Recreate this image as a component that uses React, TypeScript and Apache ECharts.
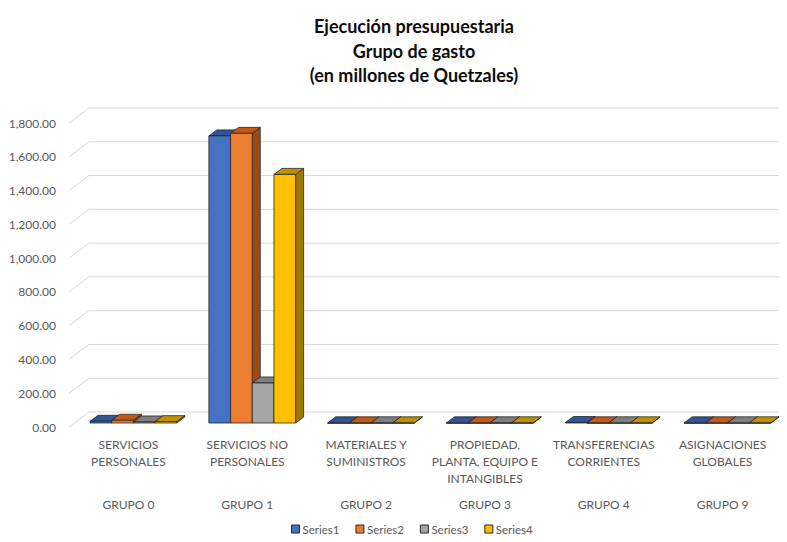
import React, { useEffect, useRef } from "react";
import * as echarts from "echarts";

const categories = [
  "SERVICIOS\nPERSONALES",
  "SERVICIOS NO\nPERSONALES",
  "MATERIALES Y\nSUMINISTROS",
  "PROPIEDAD,\nPLANTA, EQUIPO E\nINTANGIBLES",
  "TRANSFERENCIAS\nCORRIENTES",
  "ASIGNACIONES\nGLOBALES",
];
const groups = ["GRUPO 0", "GRUPO 1", "GRUPO 2", "GRUPO 3", "GRUPO 4", "GRUPO 9"];
const seriesNames = ["Series1", "Series2", "Series3", "Series4"];
const series1 = [10, 1700, 1, 1, 3, 1];
const series2 = [16, 1715, 1, 1, 1, 1];
const series3 = [6, 237, 1, 1, 1, 1];
const series4 = [8, 1472, 1, 1, 1, 1];
const yTicks = [0, 200, 400, 600, 800, 1000, 1200, 1400, 1600, 1800];

const seriesValues = [series1, series2, series3, series4];
const frontColors = ["#4472C4", "#ED7D31", "#A5A5A5", "#FFC000"];
const topColors = ["#2F5597", "#C55A11", "#7F7F7F", "#BF9000"];
const sideColors = ["#2A4A85", "#9E4A17", "#6E6E6E", "#A07A00"];

const WALL_DX = 20;
const WALL_DY = -15;
const BAR_FX = 5;
const BAR_FY = -4;
const BAR_DX = 8;
const BAR_DY = -6;
const GROUP_FRACTION = 0.73;
const FONT = "Lato";

export default function App() {
  const ref = useRef<HTMLDivElement>(null);

  useEffect(() => {
    if (!ref.current) return;
    const chart = echarts.init(ref.current, null, { renderer: "svg" });

    const gridSeries: any = {
      type: "custom",
      name: "grid",
      silent: true,
      z: 1,
      data: yTicks.map((v) => [0, v]),
      encode: { x: 0, y: 1 },
      renderItem: (params: any, api: any) => {
        const cs = params.coordSys;
        const y = api.coord([0, api.value(1)])[1];
        return {
          type: "polyline",
          shape: {
            points: [
              [cs.x, y],
              [cs.x + WALL_DX, y + WALL_DY],
              [cs.x + cs.width + 60, y + WALL_DY],
            ],
          },
          style: { stroke: "#d9d9d9", lineWidth: 1, fill: null },
        };
      },
    };

    const barSeries = seriesValues.map((vals, si) => ({
      type: "custom",
      name: seriesNames[si],
      z: 2 + si,
      itemStyle: { color: frontColors[si], borderColor: "#262626", borderWidth: 1 },
      data: vals.map((v, i) => [i, v]),
      encode: { x: 0, y: 1 },
      renderItem: (params: any, api: any) => {
        const cat = api.value(0);
        const val = api.value(1);
        const base = api.coord([cat, 0]);
        const top = api.coord([cat, val]);
        const band = api.size([1, 0])[0];
        const bw = (band * GROUP_FRACTION) / 4;
        const x = base[0] - (band * GROUP_FRACTION) / 2 + si * bw + BAR_FX;
        const yb = base[1] + BAR_FY;
        const yt = top[1] + BAR_FY;
        const stroke = { stroke: "#262626", lineWidth: 0.8, lineJoin: "round" };
        return {
          type: "group",
          children: [
            {
              type: "polygon",
              shape: {
                points: [
                  [x + bw, yt],
                  [x + bw + BAR_DX, yt + BAR_DY],
                  [x + bw + BAR_DX, yb + BAR_DY],
                  [x + bw, yb],
                ],
              },
              style: { fill: sideColors[si], ...stroke },
            },
            {
              type: "polygon",
              shape: {
                points: [
                  [x, yt],
                  [x + BAR_DX, yt + BAR_DY],
                  [x + bw + BAR_DX, yt + BAR_DY],
                  [x + bw, yt],
                ],
              },
              style: { fill: topColors[si], ...stroke },
            },
            {
              type: "rect",
              shape: { x, y: yt, width: bw, height: Math.max(yb - yt, 0.5) },
              style: { fill: frontColors[si], ...stroke },
            },
          ],
        };
      },
    }));

    chart.setOption({
      animation: false,
      backgroundColor: "#ffffff",
      title: {
        text: "Ejecución presupuestaria\nGrupo de gasto\n(en millones de Quetzales)",
        left: 409,
        top: 9,
        textAlign: "center",
        textStyle: {
          fontFamily: FONT,
          fontSize: 18,
          fontWeight: "bold",
          color: "#0d0d0d",
          lineHeight: 24.5,
        },
      },
      legend: {
        data: seriesNames,
        left: 291,
        top: 523,
        padding: 0,
        icon: "rect",
        itemWidth: 8,
        itemHeight: 8,
        itemGap: 16,
        itemStyle: { borderColor: "#262626", borderWidth: 1 },
        textStyle: { fontFamily: FONT, fontSize: 11.5, color: "#595959", padding: [0, 0, 0, -2] },
      },
      grid: { left: 69, right: 5, top: 123, bottom: 115, containLabel: false },
      xAxis: [
        {
          type: "category",
          data: categories,
          axisLine: { show: false },
          axisTick: { show: false },
          axisLabel: {
            interval: 0,
            margin: 9,
            fontFamily: FONT,
            fontSize: 12,
            lineHeight: 17,
            color: "#595959",
          },
        },
        {
          type: "category",
          position: "bottom",
          offset: 60,
          data: groups,
          axisLine: { show: false },
          axisTick: { show: false },
          axisLabel: {
            interval: 0,
            margin: 9,
            fontFamily: FONT,
            fontSize: 12,
            lineHeight: 17,
            color: "#595959",
          },
        },
      ],
      yAxis: {
        type: "value",
        min: 0,
        max: 1800,
        interval: 200,
        axisLine: { show: false },
        axisTick: { show: false },
        splitLine: { show: false },
        axisLabel: {
          margin: 13,
          fontFamily: FONT,
          fontSize: 12,
          color: "#595959",
          formatter: (v: number) =>
            v.toLocaleString("en-US", { minimumFractionDigits: 2, maximumFractionDigits: 2 }),
        },
      },
      series: [gridSeries, ...barSeries],
    });

    return () => chart.dispose();
  }, []);

  return <div ref={ref} style={{ width: 787, height: 542, margin: -8 }} />;
}
